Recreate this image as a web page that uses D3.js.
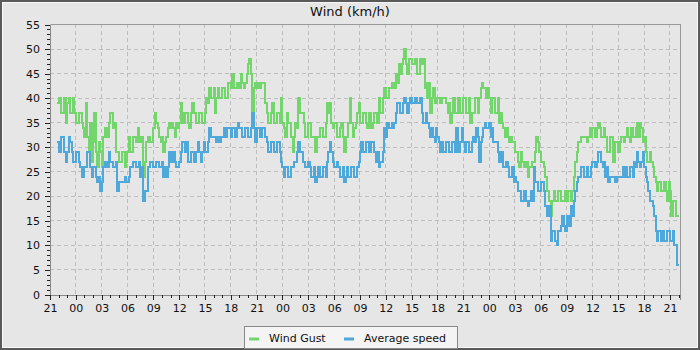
<!DOCTYPE html>
<html>
<head>
<meta charset="utf-8">
<script src="https://cdn.jsdelivr.net/npm/d3@7"></script>
<style>
body { margin: 0; background: #e6e6e6; }
svg { display: block; font-family: "DejaVu Sans", sans-serif; }
</style>
</head>
<body>
<svg></svg>
<script>
// readings every 10 minutes, first one at 21:50
const seriesNames = ['Wind Gust', 'Average speed']
const seriesColors = ['#72d66c', '#4ea8da']
const firstReading = new Date(2024, 0, 1, 21, 50)
const stepMinutes = 10

const gust = [
    39,40,40,37,37,40,35,39,40,37,37,40,37,35,35,37,37,35,34,32,
    39,32,29,35,27,31,37,29,26,31,29,26,32,34,34,32,35,37,37,34,
    35,29,29,27,27,29,29,26,27,29,32,29,29,32,32,31,34,32,31,32,
    24,27,31,32,32,31,31,34,37,35,34,32,31,32,29,31,32,34,35,34,
    35,34,32,35,34,35,39,37,35,37,37,35,34,37,39,37,37,35,35,37,
    37,35,35,37,40,39,42,40,40,42,37,40,42,40,40,42,42,40,40,43,
    43,42,45,42,42,43,43,42,45,43,42,43,45,47,48,45,35,42,43,42,
    43,42,43,43,43,39,37,35,35,37,39,35,35,37,37,35,40,35,34,32,
    37,35,35,32,29,32,35,34,40,37,37,37,35,32,32,35,35,32,32,32,
    29,32,32,34,34,32,32,35,39,37,39,35,34,35,35,32,32,34,35,32,
    29,32,32,35,40,35,32,34,35,37,39,35,35,37,37,35,34,37,37,34,
    35,37,37,35,40,37,37,40,42,40,40,42,42,43,43,42,45,43,47,45,
    47,48,50,47,45,48,48,47,47,48,48,45,45,48,47,48,42,43,40,43,
    37,40,42,39,39,40,40,39,40,40,40,39,37,39,35,37,40,37,37,40,
    40,37,37,40,40,37,37,40,35,37,37,40,40,37,40,42,43,42,42,40,
    42,40,37,40,40,37,37,40,35,37,35,34,32,34,32,31,32,31,31,29,
    29,27,26,29,27,26,26,27,24,26,26,27,27,29,32,31,29,27,27,26,
    24,21,21,19,16,19,21,19,19,21,21,19,19,19,21,19,21,21,19,21,
    24,27,29,31,31,32,32,32,32,31,32,34,32,34,34,32,34,35,34,32,
    32,34,32,29,29,32,32,27,27,31,31,29,31,32,32,31,32,34,32,31,
    34,32,32,34,35,32,35,34,31,32,29,27,27,29,27,26,24,23,21,23,
    23,21,21,23,21,19,23,21,16,19,19,16,16,16
]
const avgSpeed = [
    31,29,29,32,32,29,27,29,32,31,29,27,27,29,29,27,26,24,24,26,
    26,29,29,26,24,26,26,24,23,24,21,23,26,27,27,26,29,27,27,26,
    26,27,21,23,23,23,23,24,23,23,24,26,26,27,27,26,26,27,24,26,
    19,21,21,26,26,27,27,26,26,27,27,26,26,27,24,26,24,26,29,27,
    27,29,27,26,26,27,29,31,31,29,31,27,27,29,29,27,27,29,31,29,
    27,29,31,29,29,31,34,32,32,32,32,31,32,31,32,32,34,32,34,34,
    34,32,34,34,32,34,35,34,34,32,32,34,34,32,32,34,37,34,31,34,
    34,32,32,34,34,32,31,29,29,31,31,29,29,31,31,29,27,26,24,26,
    26,24,24,26,26,27,27,29,31,29,29,27,27,26,26,27,26,24,24,26,
    23,24,26,24,24,26,26,24,27,29,31,29,27,26,26,27,26,24,24,26,
    23,24,26,24,24,26,26,24,24,26,27,29,31,29,29,31,31,29,29,31,
    31,29,27,29,26,27,27,29,34,32,35,34,34,35,34,35,37,39,39,37,
    37,39,40,39,37,39,40,39,39,40,40,39,39,40,37,35,35,37,35,34,
    32,34,32,31,34,32,31,29,31,29,29,31,31,29,29,31,31,29,34,29,
    29,31,34,31,29,31,31,29,29,31,32,31,34,32,27,31,32,34,35,34,
    34,35,32,34,31,31,31,29,27,29,29,26,26,27,26,24,24,26,23,24,
    23,21,21,19,19,21,21,19,18,19,21,19,26,23,23,21,21,23,23,21,
    18,16,16,18,11,13,13,11,10,13,13,14,16,14,13,16,16,14,18,16,
    19,21,23,24,24,26,26,24,24,26,24,24,26,27,27,26,27,29,29,27,
    26,27,24,26,23,24,24,24,24,23,24,24,24,24,26,24,26,24,24,26,
    26,24,27,26,29,27,26,27,29,26,24,23,21,19,19,18,16,13,11,13,
    13,11,13,11,11,13,13,11,11,13,10,10,6,6
]
const yTicks = [0, 5, 10, 15, 20, 25, 30, 35, 40, 45, 50, 55]
const timeRange = [new Date(2024, 0, 1, 21, 0), new Date(2024, 0, 4, 22, 10)]

let width = 700
let height = 350
let svg = d3.select('svg').attr('width', width).attr('height', height)

// outer frame
svg.append('rect').attr('x', 1).attr('y', 1).attr('width', width - 2).attr('height', height - 2)
    .attr('fill', '#e6e6e6').attr('stroke', '#5a5a5a').attr('stroke-width', 2)
svg.append('rect').attr('x', 2.5).attr('y', 2.5).attr('width', width - 5).attr('height', height - 5)
    .attr('fill', 'none').attr('stroke', '#f8f8f8').attr('stroke-width', 1)

// title
svg.append('text').attr('x', 350).attr('y', 16).attr('text-anchor', 'middle')
    .attr('font-size', 13).attr('fill', '#111').text('Wind (km/h)')

// scales
let xScale = d3.scaleTime().domain(timeRange).range([50, 680])
let yScale = d3.scaleLinear().domain([0, 55]).range([294.5, 24.5])

// grid
let grid = svg.append('g').attr('stroke', '#bdbdbd').attr('stroke-dasharray', '4,3')
    .attr('shape-rendering', 'crispEdges')
grid.selectAll('.gx').data(xScale.ticks(d3.timeHour.every(3))).enter().append('line')
    .attr('x1', d => xScale(d)).attr('x2', d => xScale(d)).attr('y1', 24).attr('y2', 295)
grid.selectAll('.gy').data(yTicks.slice(1, -1)).enter().append('line')
    .attr('x1', 50).attr('x2', 680).attr('y1', d => yScale(d)).attr('y2', d => yScale(d))

// plot frame
svg.append('path').attr('d', 'M50.5,24.5H680.5V295')
    .attr('fill', 'none').attr('stroke', '#999').attr('shape-rendering', 'crispEdges')

// axes
svg.append('g').attr('transform', 'translate(50,0)')
    .call(d3.axisLeft(yScale).tickValues(yTicks).tickSize(5).tickPadding(5))
svg.append('g').attr('transform', 'translate(50,0)')
    .call(d3.axisLeft(yScale).tickValues(d3.range(0, 56)).tickSize(3).tickFormat(''))
svg.append('g').attr('transform', 'translate(0,295)')
    .call(d3.axisBottom(xScale).ticks(d3.timeHour.every(3)).tickFormat(d3.timeFormat('%H'))
        .tickSize(5).tickPadding(4))
svg.append('g').attr('transform', 'translate(0,295)')
    .call(d3.axisBottom(xScale).ticks(d3.timeHour.every(1)).tickSize(3).tickFormat(''))

svg.selectAll('.domain').attr('stroke', '#888').attr('shape-rendering', 'crispEdges')
svg.selectAll('.tick line').attr('stroke', '#222').attr('shape-rendering', 'crispEdges')
svg.selectAll('.tick text').attr('font-family', '"DejaVu Sans", sans-serif')
    .attr('font-size', 11).attr('fill', '#111')

// lines
let line = d3.line()
    .x((v, i) => xScale(d3.timeMinute.offset(firstReading, i * stepMinutes)))
    .y(v => yScale(v))
    .curve(d3.curveStepAfter)

;[gust, avgSpeed].forEach((series, k) => {
    svg.append('path').datum(series)
        .attr('fill', 'none')
        .attr('stroke', seriesColors[k])
        .attr('stroke-width', 2)
        .attr('shape-rendering', 'crispEdges')
        .attr('d', line)
})

// legend
let legend = svg.append('g')
legend.append('rect').attr('x', 244.5).attr('y', 326.5).attr('width', 213).attr('height', 22)
    .attr('fill', '#f4f4f4').attr('stroke', '#888')
let legendItems = [{x: 249, tx: 269}, {x: 344, tx: 364}]
legendItems.forEach((it, k) => {
    legend.append('line').attr('x1', it.x).attr('x2', it.x + 10).attr('y1', 339).attr('y2', 339)
        .attr('stroke', seriesColors[k]).attr('stroke-width', 3)
    legend.append('text').attr('x', it.tx).attr('y', 341.5).attr('font-size', 11)
        .attr('fill', '#111').text(seriesNames[k])
})
</script>
</body>
</html>
